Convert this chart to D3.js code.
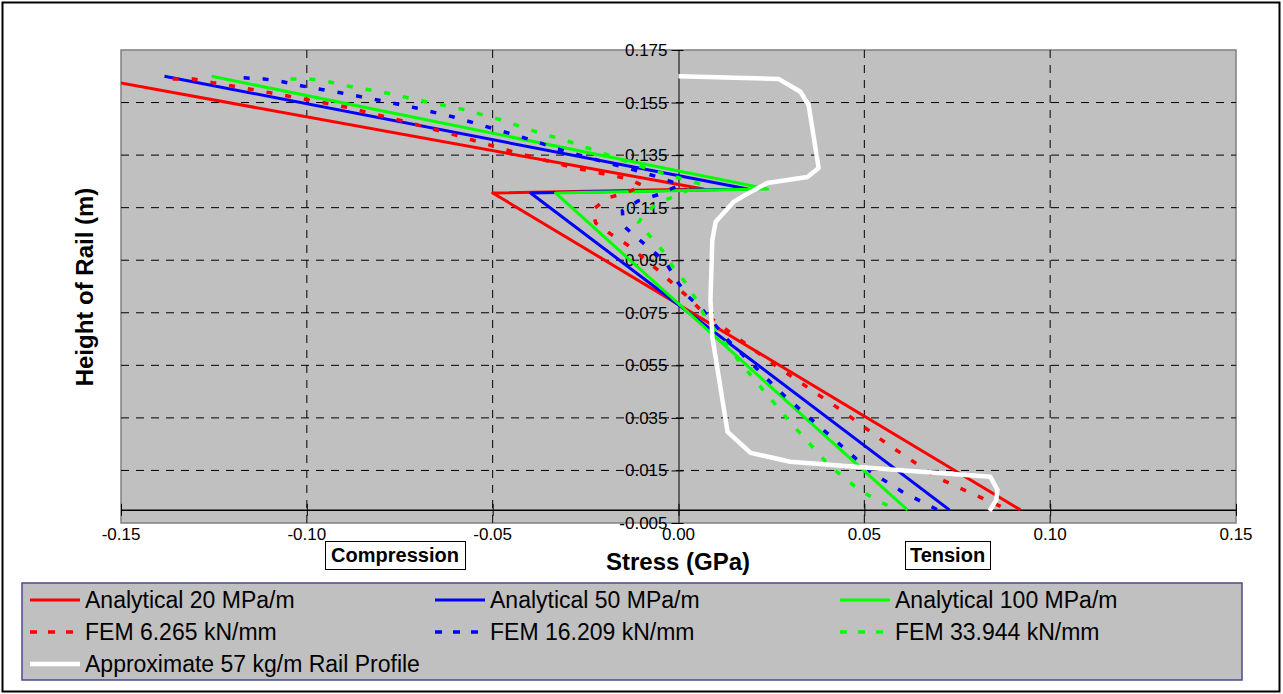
<!DOCTYPE html>
<html><head><meta charset="utf-8">
<script src="https://cdn.jsdelivr.net/npm/d3@7"></script>
<style>
body{margin:0;background:#fff;}
svg{display:block;font-family:"Liberation Sans",Arial,sans-serif;}
</style>
</head><body>
<svg id="c" width="1283" height="694"></svg>
<script>
// ---------- data ----------
const xTicks = [-0.15, -0.10, -0.05, 0.00, 0.05, 0.10, 0.15];
const xTickLabels = ["-0.15", "-0.10", "-0.05", "0.00", "0.05", "0.10", "0.15"];
const yTicks = [-0.005, 0.015, 0.035, 0.055, 0.075, 0.095, 0.115, 0.135, 0.155, 0.175];
const yTickLabels = ["-0.005", "0.015", "0.035", "0.055", "0.075", "0.095", "0.115", "0.135", "0.155", "0.175"];

// [stress (GPa), height (m)]
const analytical20 = [[-0.160, 0.165], [0.0067, 0.1221], [-0.0500, 0.1206], [0.0920, 0.000]];
const analytical50 = [[-0.1383, 0.165], [0.0186, 0.1221], [-0.0398, 0.1206], [0.0729, 0.000]];
const analytical100 = [[-0.1256, 0.165], [0.0240, 0.1221], [-0.0331, 0.1206], [0.0616, 0.000]];

const fem6265 = [[-0.1361, 0.1640], [-0.1305, 0.1640], [-0.1251, 0.1625], [-0.1200, 0.1613], [-0.1098, 0.1587],
  [-0.0995, 0.1560], [-0.0896, 0.1533], [-0.0743, 0.1480], [-0.0592, 0.1423], [-0.0444, 0.1362],
  [-0.0291, 0.1305], [-0.0137, 0.1260], [-0.0094, 0.1233], [-0.0143, 0.1206], [-0.0191, 0.1187],
  [-0.0231, 0.1142], [-0.0223, 0.1092], [-0.0183, 0.1050], [-0.0137, 0.1008], [-0.0056, 0.0913],
  [0.0019, 0.0818], [0.0065, 0.0753], [0.0140, 0.0674], [0.0266, 0.0544], [0.0436, 0.0381],
  [0.0565, 0.0247], [0.0697, 0.0122], [0.0791, 0.0061], [0.0888, 0.0000]];
const fem16209 = [[-0.1170, 0.1644], [-0.1116, 0.1640], [-0.1065, 0.1629], [-0.1012, 0.1613], [-0.0909, 0.1587],
  [-0.0810, 0.1560], [-0.0708, 0.1530], [-0.0605, 0.1495], [-0.0506, 0.1454], [-0.0406, 0.1412],
  [-0.0309, 0.1366], [-0.0210, 0.1328], [-0.0110, 0.1290], [-0.0056, 0.1267], [0.0005, 0.1237],
  [-0.0056, 0.1199], [-0.0108, 0.1176], [-0.0151, 0.1138], [-0.0148, 0.1081], [-0.0108, 0.1031],
  [-0.0070, 0.0986], [-0.0035, 0.0944], [-0.0003, 0.0868], [0.0027, 0.0811], [0.0065, 0.0761],
  [0.0132, 0.0647], [0.0282, 0.0438], [0.0436, 0.0247], [0.0517, 0.0145], [0.0603, 0.0068], [0.0697, 0.0000]];
const fem33944 = [[-0.1044, 0.1640], [-0.0993, 0.1640], [-0.0942, 0.1629], [-0.0890, 0.1613], [-0.0788, 0.1587],
  [-0.0689, 0.1556], [-0.0586, 0.1526], [-0.0487, 0.1488], [-0.0390, 0.1442], [-0.0291, 0.1400],
  [-0.0191, 0.1351], [-0.0075, 0.1294], [0.0059, 0.1240], [0.0005, 0.1202], [-0.0048, 0.1172],
  [-0.0089, 0.1134], [-0.0108, 0.1092], [-0.0075, 0.1039], [-0.0043, 0.0986], [-0.0013, 0.0921],
  [0.0024, 0.0856], [0.0051, 0.0791], [0.0073, 0.0731], [0.0167, 0.0559], [0.0307, 0.0323],
  [0.0409, 0.0164], [0.0490, 0.0072], [0.0584, 0.0000]];
const railProfile = [[0.0000, 0.1650], [0.0269, 0.1640], [0.0328, 0.1591], [0.0350, 0.1541], [0.0377, 0.1301],
  [0.0347, 0.1267], [0.0239, 0.1244], [0.0194, 0.1210], [0.0148, 0.1172], [0.0100, 0.1096],
  [0.0091, 0.1027], [0.0086, 0.0799], [0.0091, 0.0658], [0.0132, 0.0297], [0.0194, 0.0217],
  [0.0301, 0.0183], [0.0589, 0.0152], [0.0839, 0.0126], [0.0858, 0.0076], [0.0855, 0.0038], [0.0837, -0.0004]];

const seriesNames = ["Analytical 20 MPa/m", "Analytical 50 MPa/m", "Analytical 100 MPa/m",
  "FEM 6.265 kN/mm", "FEM 16.209 kN/mm", "FEM 33.944 kN/mm", "Approximate 57 kg/m Rail Profile"];
const seriesData = [analytical20, analytical50, analytical100, fem6265, fem16209, fem33944, railProfile];
const seriesColors = ["#ff0000", "#0000ff", "#00ff00", "#ff0000", "#0000ff", "#00ff00", "#ffffff"];
const seriesDashed = [false, false, false, true, true, true, false];

// ---------- layout ----------
const svg = d3.select("#c");
const L = 121, R = 1236, T = 50, B = 523;
const x = d3.scaleLinear().domain([-0.15, 0.15]).range([L, R]);
const y = d3.scaleLinear().domain([-0.005, 0.175]).range([B, T]);

// outer border
svg.append("rect").attr("x", 2.5).attr("y", 2.5).attr("width", 1277).attr("height", 689)
  .attr("fill", "#fff").attr("stroke", "#000").attr("stroke-width", 2);

// plot area
svg.append("rect").attr("x", L).attr("y", T).attr("width", R - L).attr("height", B - T)
  .attr("fill", "#c0c0c0").attr("stroke", "#808080").attr("stroke-width", 1.5);

svg.append("clipPath").attr("id", "clip").append("rect")
  .attr("x", L).attr("y", T).attr("width", R - L).attr("height", B - T);

// gridlines
const g = svg.append("g");
g.selectAll("line.vg").data(xTicks.filter(d => Math.abs(d) > 1e-9 && Math.abs(Math.abs(d) - 0.15) > 1e-9))
  .join("line").attr("x1", d => x(d)).attr("x2", d => x(d)).attr("y1", T).attr("y2", B)
  .attr("stroke", "#000").attr("stroke-width", 1).attr("stroke-dasharray", "8,7");
g.selectAll("line.hg").data(yTicks.slice(1, -1))
  .join("line").attr("x1", L).attr("x2", R).attr("y1", d => y(d)).attr("y2", d => y(d))
  .attr("stroke", "#000").attr("stroke-width", 1).attr("stroke-dasharray", "8,7");

// axes (crossing at 0)
const yAxis = d3.axisLeft(y).tickValues(yTicks).tickFormat((d, i) => yTickLabels[i]).tickSizeInner(7).tickSizeOuter(0).tickPadding(4);
const ya = svg.append("g").attr("transform", `translate(${x(0)},0)`).call(yAxis);
ya.select(".domain").attr("stroke", "#404040").attr("stroke-width", 1.5);
ya.selectAll(".tick line").attr("x2", 5).attr("x1", -7).attr("stroke", "#000");
ya.selectAll(".tick text").attr("font-size", 17).attr("font-family", "Liberation Sans, Arial, sans-serif").attr("fill", "#000");

const xa = svg.append("g").attr("transform", `translate(0,${y(0)})`)
  .call(d3.axisBottom(x).tickValues(xTicks).tickFormat(() => "").tickSizeInner(6).tickSizeOuter(0));
xa.select(".domain").attr("stroke", "#000").attr("stroke-width", 1.5);
xa.selectAll(".tick line").attr("y1", -6).attr("y2", 6).attr("stroke", "#000");
svg.append("g").selectAll("text").data(xTicks).join("text")
  .attr("x", d => x(d)).attr("y", 540).attr("text-anchor", "middle")
  .attr("font-size", 17).text((d, i) => xTickLabels[i]);

// series
const line = d3.line().x(d => x(d[0])).y(d => y(d[1]));
const sg = svg.append("g").attr("clip-path", "url(#clip)");
seriesData.forEach((data, i) => {
  sg.append("path").datum(data).attr("d", line).attr("fill", "none")
    .attr("stroke", seriesColors[i])
    .attr("stroke-width", i === 6 ? 4.5 : (seriesDashed[i] ? 3.5 : 3))
    .attr("stroke-dasharray", seriesDashed[i] ? "6,13" : null)
    .attr("stroke-linejoin", "round");
});

// axis titles
svg.append("text").attr("x", 678).attr("y", 570).attr("text-anchor", "middle")
  .attr("font-size", 24).attr("font-weight", "bold").text("Stress (GPa)");
svg.append("text").attr("transform", "translate(93,287) rotate(-90)").attr("text-anchor", "middle")
  .attr("font-size", 24).attr("font-weight", "bold").text("Height of Rail (m)");

// Compression / Tension boxes
const notes = [{t: "Compression", x0: 325, x1: 465}, {t: "Tension", x0: 905, x1: 990}];
notes.forEach(n => {
  svg.append("rect").attr("x", n.x0 + 0.5).attr("y", 541.5).attr("width", n.x1 - n.x0).attr("height", 28)
    .attr("fill", "#fff").attr("stroke", "#000").attr("stroke-width", 1);
  svg.append("text").attr("x", (n.x0 + n.x1) / 2).attr("y", 562).attr("text-anchor", "middle")
    .attr("font-size", 20).attr("font-weight", "bold").text(n.t);
});

// legend
svg.append("rect").attr("x", 22).attr("y", 583).attr("width", 1220).attr("height", 97)
  .attr("fill", "#c0c0c0").attr("stroke", "#4a4a8c").attr("stroke-width", 1.5);
const colX = [30, 435, 840], rowY = [600, 632, 664];
seriesNames.forEach((name, i) => {
  const cx = colX[i % 3], cy = rowY[Math.floor(i / 3)];
  svg.append("line").attr("x1", cx).attr("x2", cx + 50).attr("y1", cy).attr("y2", cy)
    .attr("stroke", seriesColors[i]).attr("stroke-width", i === 6 ? 4.5 : (seriesDashed[i] ? 3.5 : 3))
    .attr("stroke-dasharray", seriesDashed[i] ? "7,11" : null);
  svg.append("text").attr("x", cx + 55).attr("y", cy + 8).attr("font-size", 23).text(name);
});
</script>
</body></html>
